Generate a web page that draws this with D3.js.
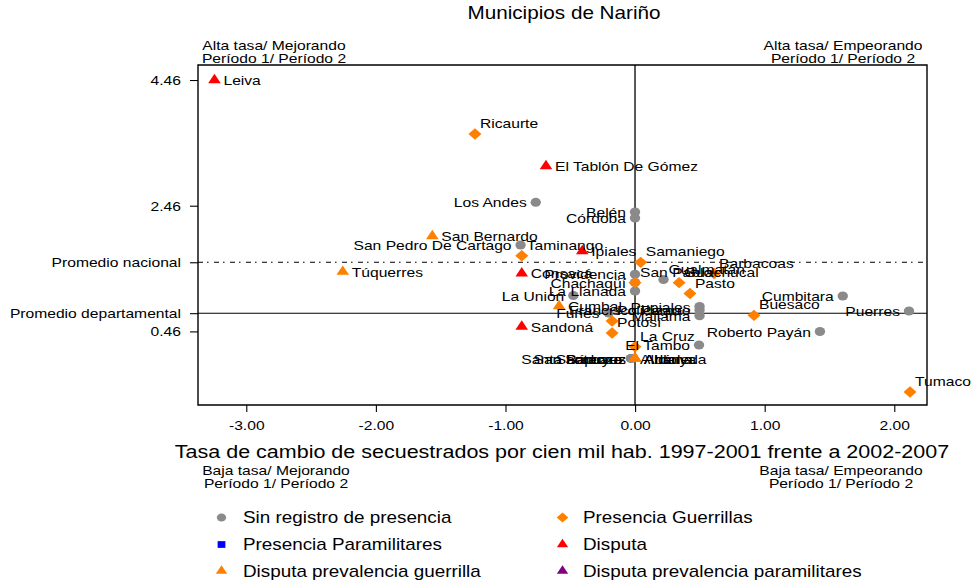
<!DOCTYPE html>
<html>
<head>
<meta charset="utf-8">
<script src="https://cdn.jsdelivr.net/npm/d3@7"></script>
<style>
  body { margin: 0; background: #fff; }
  svg { display: block; font-family: "Liberation Sans", Arial, sans-serif; }
</style>
</head>
<body>
<div id="chart"></div>
<script>
// municipio, tasa de cambio (x), tasa período 2 (y), posición de la etiqueta (reloj)
const sinRegistro = [
  ["Los Andes", -0.766, 2.514, 9],
  ["Belén", 0, 2.36, 9],
  ["Córdoba", 0, 2.264, 9],
  ["San Pedro De Cartago", -0.883, 1.835, 9],
  ["Providencia", 0, 1.369, 9],
  ["Chachagüí", 0, 1.238, 9],
  ["Gualmatán", 0.22, 1.286, 1],
  ["La Llanada", 0, 1.103, 9],
  ["La Unión", -0.476, 1.031, 9],
  ["Funes", -0.204, 0.753, 9],
  ["Pupiales", 0.498, 0.856, 9],
  ["Francisco Pizarro", 0.498, 0.80, 9],
  ["Mallama", 0.498, 0.71, 9],
  ["El Tambo", 0.494, 0.244, 9],
  ["Cumbitara", 1.603, 1.023, 9],
  ["Roberto Payán", 1.427, 0.458, 9],
  ["Puerres", 2.114, 0.785, 9],
  ["Santa Bárbara", -0.03, 0.03, 9],
  ["San Lorenzo", -0.03, 0.03, 9],
  ["Albán", -0.03, 0.03, 3]
];
const guerrillas = [
  ["Ricaurte", -1.235, 3.601, 1],
  ["Taminango", -0.874, 1.664, 1],
  ["Samaniego", 0.044, 1.559, 1],
  ["San Pablo", 0, 1.235, 1],
  ["Guachucal", 0.34, 1.235, 1],
  ["Pasto", 0.424, 1.063, 1],
  ["Barbacoas", 0.61, 1.381, 1],
  ["Policarpa", -0.177, 0.626, 1],
  ["Potosí", -0.177, 0.435, 1],
  ["La Cruz", 0, 0.217, 1],
  ["Buesaco", 0.918, 0.716, 1],
  ["Tumaco", 2.122, -0.504, 1]
];
const paramilitares = [];
const disputa = [
  ["Leiva", -3.245, 4.46, 3],
  ["El Tablón De Gómez", -0.687, 3.092, 3],
  ["Ipiales", -0.407, 1.739, 3],
  ["Consacá", -0.874, 1.384, 3],
  ["Sandoná", -0.874, 0.535, 3]
];
const disputaGuerrilla = [
  ["San Bernardo", -1.564, 1.978, 3],
  ["Túquerres", -2.255, 1.41, 3],
  ["Cumbal", -0.586, 0.864, 3],
  ["Sapuyes", 0, 0.03, 9],
  ["Santacruz", 0, 0.03, 9],
  ["Ancuya", 0, 0.03, 3],
  ["Aldana", 0, 0.03, 3],
  ["Arboleda", 0, 0.03, 3]
];
const disputaParamilitares = [];

const xTicks = [-3, -2, -1, 0, 1, 2];
const yTicks = [4.46, 2.46, 0.46];
const promedioNacional = 1.56;
const promedioDepartamental = 0.75;

const W = 972, H = 582;
const SX = 1.15;            // la figura original está estirada a lo ancho
const px = v => v / SX;

const series = [
  { nombre: "Sin registro de presencia", datos: sinRegistro, forma: "circle", color: "#8a8a8a" },
  { nombre: "Presencia Guerrillas", datos: guerrillas, forma: "diamond", color: "#ff8000" },
  { nombre: "Presencia Paramilitares", datos: paramilitares, forma: "square", color: "#0000ff" },
  { nombre: "Disputa", datos: disputa, forma: "triangle", color: "#ff0000" },
  { nombre: "Disputa prevalencia guerrilla", datos: disputaGuerrilla, forma: "triangle", color: "#ff8000" },
  { nombre: "Disputa prevalencia paramilitares", datos: disputaParamilitares, forma: "triangle", color: "#800080" }
];

const labelPos = {
  3: { dx: 9, dy: 0, anchor: "start" },
  9: { dx: -9, dy: 0, anchor: "end" },
  1: { dx: 5, dy: -11, anchor: "start" },
  2: { dx: 9, dy: -7, anchor: "start" },
  12: { dx: 0, dy: -11, anchor: "middle" }
};

function symbolPath(forma, k) {
  if (forma === "circle") return d3.symbol(d3.symbolCircle, 64 * k * k)();
  if (forma === "diamond") return d3.symbol(d3.symbolSquare, 64 * k * k)();
  if (forma === "square") return d3.symbol(d3.symbolSquare, 56 * k * k)();
  return d3.symbol(d3.symbolTriangle, 52 * k * k)();
}

const svg = d3.select("#chart")
  .append("svg")
  .attr("width", W)
  .attr("height", H)
  .attr("viewBox", [0, 0, W / SX, H])
  .attr("preserveAspectRatio", "none");

const x = d3.scaleLinear().domain([-3.372, 2.253]).range([px(198), px(927)]);
const y = d3.scaleLinear().domain([-0.711, 4.699]).range([405, 65]);

// titulo
svg.append("text")
  .attr("x", px(564))
  .attr("y", 13)
  .attr("dy", "0.35em")
  .attr("text-anchor", "middle")
  .attr("font-size", 18)
  .text("Municipios de Nariño");

// textos de las esquinas
const esquinas = [
  { cx: 274, cy: 45.5, t: "Alta tasa/ Mejorando" },
  { cx: 843, cy: 45.5, t: "Alta tasa/ Empeorando" },
  { cx: 276, cy: 470.5, t: "Baja tasa/ Mejorando" },
  { cx: 841, cy: 470.5, t: "Baja tasa/ Empeorando" }
];
esquinas.forEach(e => {
  const t = svg.append("text")
    .attr("text-anchor", "middle")
    .attr("font-size", 13.6);
  t.append("tspan").attr("x", px(e.cx)).attr("y", e.cy).attr("dy", "0.35em").text(e.t);
  t.append("tspan").attr("x", px(e.cx)).attr("y", e.cy + 13).attr("dy", "0.35em").text("Período 1/ Período 2");
});

// ejes
const gx = svg.append("g")
  .attr("transform", `translate(0,${y.range()[0]})`)
  .call(d3.axisBottom(x).tickValues(xTicks).tickFormat(d => d.toFixed(2)).tickSize(7).tickPadding(8));

const yLabel = d => d === promedioNacional ? "Promedio nacional"
  : d === promedioDepartamental ? "Promedio departamental" : d.toFixed(2);

const gy = svg.append("g")
  .attr("transform", `translate(${x.range()[0]},0)`)
  .call(d3.axisLeft(y).tickValues([...yTicks, promedioNacional, promedioDepartamental])
    .tickFormat(yLabel).tickSize(px(8)).tickPadding(px(9)));

[gx, gy].forEach(g => {
  g.select(".domain").remove();
  g.selectAll("line").attr("stroke", "#000").attr("stroke-width", 1.1).attr("vector-effect", "non-scaling-stroke");
  g.selectAll("text").attr("font-size", 13.6).attr("font-family", null).attr("fill", "#000");
});

svg.append("text")
  .attr("x", px(562))
  .attr("y", 451)
  .attr("dy", "0.35em")
  .attr("text-anchor", "middle")
  .attr("font-size", 18.7)
  .text("Tasa de cambio de secuestrados por cien mil hab. 1997-2001 frente a 2002-2007");

// lineas de referencia
svg.append("line")
  .attr("x1", x(0)).attr("x2", x(0))
  .attr("y1", y.range()[1]).attr("y2", y.range()[0])
  .attr("stroke", "#000").attr("stroke-width", 1.3).attr("vector-effect", "non-scaling-stroke");

svg.append("line")
  .attr("x1", x.range()[0]).attr("x2", x.range()[1])
  .attr("y1", y(promedioDepartamental)).attr("y2", y(promedioDepartamental))
  .attr("stroke", "#000").attr("stroke-width", 1.1).attr("vector-effect", "non-scaling-stroke");

svg.append("line")
  .attr("x1", x.range()[0]).attr("x2", x.range()[1])
  .attr("y1", y(promedioNacional)).attr("y2", y(promedioNacional))
  .attr("stroke", "#000").attr("stroke-width", 1.1)
  .attr("stroke-dasharray", [5, 4, 1.5, 5.5].map(px).join(","));

// marco
svg.append("rect")
  .attr("x", x.range()[0])
  .attr("y", y.range()[1])
  .attr("width", x.range()[1] - x.range()[0])
  .attr("height", y.range()[0] - y.range()[1])
  .attr("fill", "none")
  .attr("stroke", "#000")
  .attr("stroke-width", 1.4)
  .attr("vector-effect", "non-scaling-stroke");

// puntos y etiquetas
series.forEach(s => {
  svg.append("g").selectAll("path")
    .data(s.datos)
    .join("path")
    .attr("d", symbolPath(s.forma, 1))
    .attr("transform", d => `translate(${x(d[1])},${y(d[2])})` + (s.forma === "diamond" ? " rotate(45)" : ""))
    .attr("fill", s.color);
});

series.forEach(s => {
  svg.append("g").selectAll("text")
    .data(s.datos)
    .join("text")
    .attr("x", d => x(d[1]) + px(labelPos[d[3]].dx))
    .attr("y", d => y(d[2]) + labelPos[d[3]].dy)
    .attr("dy", "0.38em")
    .attr("text-anchor", d => labelPos[d[3]].anchor)
    .attr("font-size", 13.6)
    .text(d => d[0]);
});

// leyenda (dos columnas, por filas)
const legRows = [517.5, 544.5, 571];
const legCols = [{ m: 221.5, t: 243 }, { m: 562.5, t: 583 }];

const leg = svg.append("g").selectAll("g")
  .data(series)
  .join("g")
  .attr("transform", (d, i) => `translate(0,${legRows[Math.floor(i / 2)]})`);

leg.append("path")
  .attr("d", d => symbolPath(d.forma, 0.9))
  .attr("transform", (d, i) => `translate(${px(legCols[i % 2].m)},0)` + (d.forma === "diamond" ? " rotate(45)" : ""))
  .attr("fill", d => d.color);

leg.append("text")
  .attr("x", (d, i) => px(legCols[i % 2].t))
  .attr("dy", "0.35em")
  .attr("font-size", 16.4)
  .text(d => d.nombre);
</script>
</body>
</html>
